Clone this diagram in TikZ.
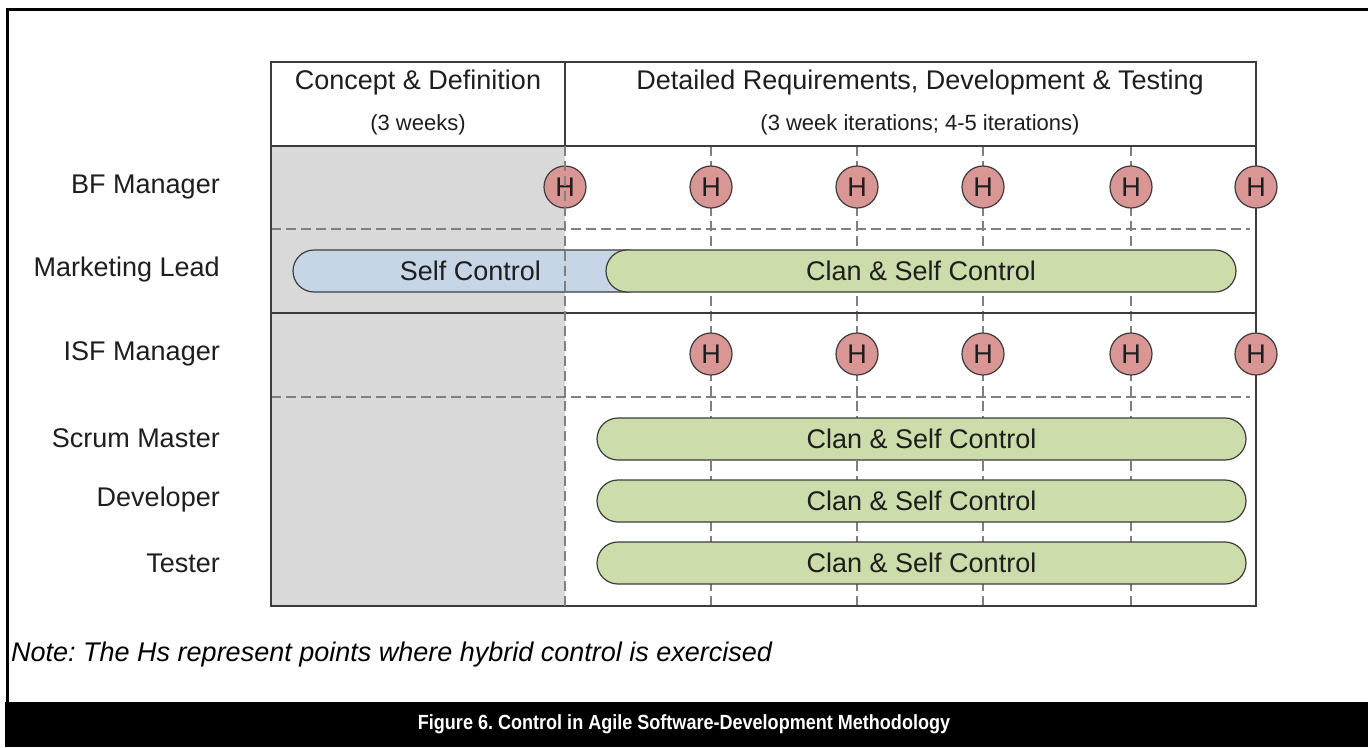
\documentclass[tikz,border=0pt]{standalone}
\usepackage{fontspec}
\setmainfont{Liberation Sans}
\newfontfamily\capfont{Liberation Sans}[FakeStretch=0.88]
\usetikzlibrary{shapes.misc}
\definecolor{greyfill}{RGB}{217,217,217}
\definecolor{hfill}{RGB}{217,150,148}
\definecolor{gfill}{RGB}{204,220,171}
\definecolor{bfill}{RGB}{199,214,230}
\definecolor{linec}{RGB}{60,60,60}
\definecolor{dashc}{RGB}{128,128,128}
\definecolor{txtc}{RGB}{30,30,30}
\frenchspacing
\begin{document}
\begin{tikzpicture}[x=1pt,y=-1pt,
  lbl/.style={anchor=east, inner sep=0pt, text=txtc, font=\fontsize{27}{30}\selectfont},
  hdr/.style={inner sep=0pt, text=txtc, font=\fontsize{27}{30}\selectfont},
  sub/.style={inner sep=0pt, text=txtc, font=\fontsize{22}{26}\selectfont},
  hc/.style={circle, draw=linec, line width=1.2pt, fill=hfill, minimum size=42pt, inner sep=0pt, text=txtc, font=\fontsize{27}{30}\selectfont},
  bar/.style={rounded rectangle, draw=linec, line width=1.2pt, minimum height=42pt, inner sep=0pt, text=txtc, font=\fontsize{27}{30}\selectfont},
  gbar/.style={bar, fill=gfill},
  bbar/.style={bar, fill=bfill},
  dl/.style={draw=dashc, line width=1.3pt, dash pattern=on 10pt off 5pt},
  frame/.style={draw=linec, line width=1.8pt}
]
\useasboundingbox (0,0) rectangle (1368,747);
\fill[white] (0,0) rectangle (1368,747);
% outer frame
\draw[line width=3pt, black] (7,702) -- (7,9) -- (1368,9);
\fill[black] (5,702) rectangle (1368,747);
\node[text=white, font=\capfont\bfseries\fontsize{20.5}{24}\selectfont] (cap) at (684,724) {Figure 6. Control in Agile Software-Development Methodology};
\node[anchor=west, inner sep=0pt, text=black, font=\itshape\fontsize{27}{30}\selectfont] (note) at (11,655) {Note: The Hs represent points where hybrid control is exercised};

% grey region
\fill[greyfill] (271,146) rectangle (565,606);

% dashed grid
\draw[dl] (271,229) -- (1250,229);
\draw[dl] (271,397) -- (1250,397);
\foreach \x in {711,857,983,1131} {
  \draw[dl] (\x,146) -- (\x,606);
}
% solid lines
\draw[frame] (271,313) -- (1256,313);
\draw[frame] (271,146) -- (1256,146);
\draw[frame] (565,62) -- (565,146);
\draw[frame] (271,62) rectangle (1256,606);

% headers
\node[hdr] (h1) at (418,83) {Concept \& Definition};
\node[sub] (h1s) at (418,125) {(3 weeks)};
\node[hdr] (h2) at (920,83) {Detailed Requirements, Development \& Testing};
\node[sub] (h2s) at (920,125) {(3 week iterations; 4-5 iterations)};

% row labels
\node[lbl] (r1) at (220,187) {BF Manager};
\node[lbl] (r2) at (220,270) {Marketing Lead};
\node[lbl] (r3) at (220,354) {ISF Manager};
\node[lbl] (r4) at (220,438) {Scrum Master};
\node[lbl] (r5) at (220,500) {Developer};
\node[lbl] (r6) at (220,563) {Tester};

% bars
\node[bbar, minimum width=355pt] (self) at (470.5,271) {Self Control};
\node[gbar, minimum width=630pt] (ml) at (921,271) {Clan \& Self Control};
\node[gbar, minimum width=649pt] (sm) at (921.5,439) {Clan \& Self Control};
\node[gbar, minimum width=649pt] (dv) at (921.5,501) {Clan \& Self Control};
\node[gbar, minimum width=649pt] (ts) at (921.5,563) {Clan \& Self Control};

% H circles
\foreach \x [count=\i] in {565,711,857,983,1131,1256} {
  \node[hc] (bf\i) at (\x,187) {H};
}
\foreach \x [count=\i] in {711,857,983,1131,1256} {
  \node[hc] (isf\i) at (\x,354) {H};
}
% phase boundary dashed line on top
\draw[dl] (565,146) -- (565,606);
\end{tikzpicture}
\end{document}
